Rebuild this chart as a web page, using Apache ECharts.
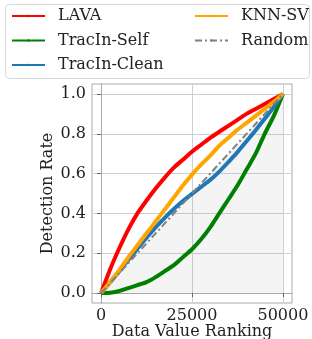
<!DOCTYPE html>
<html>
<head>
<meta charset="utf-8">
<script src="https://cdn.jsdelivr.net/npm/echarts@6/dist/echarts.min.js"></script>
<style>
  html, body { margin: 0; padding: 0; background: #fff; }
  #main { width: 312px; height: 339px; }
</style>
</head>
<body>
<div id="main"></div>
<script>
// data value ranking (x) and detection rate per method (y)
var rank = [0, 2500, 5000, 7500, 10000, 12500, 15000, 17500, 20000, 22500, 25000,
            27500, 30000, 32500, 35000, 37500, 40000, 42500, 45000, 47500, 50000];
var lava = [0, 0.12, 0.225, 0.32, 0.40, 0.465, 0.525, 0.58, 0.63, 0.67, 0.71,
            0.745, 0.78, 0.81, 0.84, 0.87, 0.90, 0.925, 0.95, 0.975, 1.0];
var tracinSelf = [0, 0.002, 0.01, 0.025, 0.04, 0.055, 0.08, 0.11, 0.14, 0.18, 0.22,
                  0.27, 0.33, 0.40, 0.47, 0.54, 0.62, 0.70, 0.80, 0.89, 1.0];
var tracinClean = [0, 0.055, 0.11, 0.167, 0.223, 0.278, 0.33, 0.378, 0.422, 0.462, 0.498,
                   0.533, 0.568, 0.61, 0.658, 0.708, 0.762, 0.818, 0.875, 0.935, 1.0];
var knnSv = [0, 0.055, 0.115, 0.18, 0.24, 0.30, 0.36, 0.42, 0.48, 0.54, 0.595,
             0.645, 0.69, 0.74, 0.78, 0.82, 0.855, 0.89, 0.925, 0.96, 1.0];
var randomRank = [0, 50000];
var randomRate = [0, 1.0];
var xTicks = [0, 25000, 50000];
var yTicks = [0, 0.2, 0.4, 0.6, 0.8, 1.0];

function pairs(xs, ys) {
	var out = [];
	for (var i = 0; i < xs.length; i++) out.push([xs[i], ys[i]]);
	return out;
}

var FONT = 'DejaVu Serif';
var myChart = echarts.init(document.getElementById('main'));

function curve(name, ys, color) {
	return {
		name: name,
		type: 'line',
		data: pairs(rank, ys),
		symbol: 'circle',
		showSymbol: false,
		smooth: 0.25,
		lineStyle: { color: color, width: 4 },
		itemStyle: { color: color }
	};
}

var legendBase = {
	orient: 'vertical',
	top: 6,
	padding: 0,
	itemWidth: 33,
	itemHeight: 3,
	itemGap: 4.5,
	lineStyle: { width: 2 },
	textStyle: { fontFamily: FONT, fontSize: 16, color: '#222', lineHeight: 20, padding: [0, 0, 0, 8] }
};

var option = {
	animation: false,
	graphic: [{
		type: 'rect',
		shape: { x: 5.5, y: 4.5, width: 304, height: 74, r: 4 },
		style: { fill: 'none', stroke: '#d8d8d8', lineWidth: 1 },
		z: -1
	}],
	legend: [
		Object.assign({ left: 11, data: ['LAVA', 'TracIn-Self', 'TracIn-Clean'] }, legendBase),
		Object.assign({ left: 194, data: ['KNN-SV', 'Random'] }, legendBase)
	],
	grid: {
		left: 92, top: 84, right: 20, bottom: 36,
		outerBoundsMode: 'none',
		containLabel: false,
		show: true, borderColor: '#aaaaaa', borderWidth: 1, backgroundColor: '#fff'
	},
	xAxis: {
		type: 'value',
		min: -2500,
		max: 52500,
		name: 'Data Value Ranking',
		nameLocation: 'middle',
		nameGap: 21,
		nameMoveOverlap: false,
		nameTextStyle: { fontFamily: FONT, fontSize: 16, color: '#222' },
		axisLine: { show: true, lineStyle: { color: '#aaaaaa' } },
		axisTick: { show: true, length: 4, lineStyle: { color: '#666' }, customValues: xTicks },
		axisLabel: { fontFamily: FONT, fontSize: 16, color: '#222', margin: 5, customValues: xTicks,
			formatter: function (v) { return String(v); } },
		splitLine: { show: true, lineStyle: { color: '#c9d0d9', width: 1 } }
	},
	yAxis: {
		type: 'value',
		min: -0.05,
		max: 1.05,
		name: 'Detection Rate',
		nameLocation: 'middle',
		nameGap: 36,
		nameMoveOverlap: false,
		nameTextStyle: { fontFamily: FONT, fontSize: 16, color: '#222' },
		axisLine: { show: true, lineStyle: { color: '#aaaaaa' } },
		axisTick: { show: true, length: 4, lineStyle: { color: '#666' }, customValues: yTicks },
		axisLabel: { fontFamily: FONT, fontSize: 16, color: '#222', margin: 6, customValues: yTicks,
			formatter: function (v) { return v.toFixed(1); } },
		splitLine: { show: true, lineStyle: { color: '#c9d0d9', width: 1 } }
	},
	series: [
		{
			type: 'line',
			data: pairs(randomRank, randomRate),
			symbol: 'none',
			silent: true,
			lineStyle: { width: 0 },
			areaStyle: { color: 'rgba(128,128,128,0.12)', origin: 0 },
			z: 1
		},
		curve('LAVA', lava, '#ff0000'),
		curve('TracIn-Self', tracinSelf, '#008000'),
		curve('TracIn-Clean', tracinClean, '#1f77b4'),
		curve('KNN-SV', knnSv, '#ffa500'),
		{
			name: 'Random',
			type: 'line',
			data: pairs(randomRank, randomRate),
			symbol: 'circle',
			showSymbol: false,
			lineStyle: { color: '#808080', width: 2, type: [7, 3, 2, 3] },
			itemStyle: { color: '#808080' }
		}
	]
};
myChart.setOption(option);
</script>
</body>
</html>
